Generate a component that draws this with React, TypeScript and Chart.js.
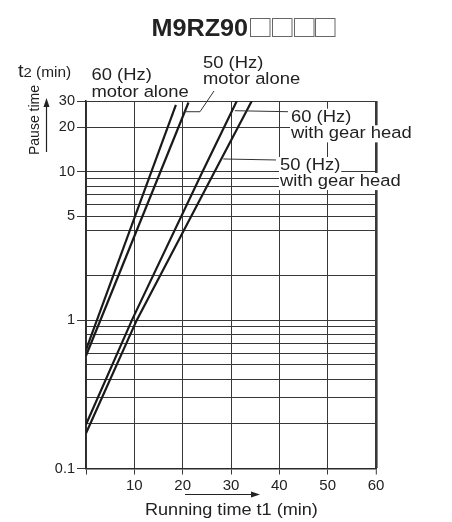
import React, { useEffect, useRef } from 'react';
import { Chart, registerables } from 'chart.js';
Chart.register(...registerables);

const TITLE = 'M9RZ90';
const TITLE_BOXES = 4;
const X_TICKS = [0, 10, 20, 30, 40, 50, 60];
const Y_GRID = [0.1, 0.2, 0.3, 0.4, 0.5, 0.6, 0.7, 0.8, 0.9, 1, 2, 4, 5, 6, 7, 8, 9, 10, 20, 30];
const Y_LABELS = [0.1, 1, 5, 10, 20, 30];

const hz60Motor = [{ x: 0, y: 0.63 }, { x: 18.6, y: 28.3 }];
const hz50Motor = [{ x: 0, y: 0.575 }, { x: 21.2, y: 29.3 }];
const hz60Gear = [{ x: 0, y: 0.198 }, { x: 9.5, y: 1 }, { x: 24.1, y: 10 }, { x: 31.2, y: 30 }];
const hz50Gear = [{ x: 0, y: 0.173 }, { x: 10.5, y: 1 }, { x: 26.6, y: 10 }, { x: 34.3, y: 30 }];

const FONT = '"Liberation Sans", Arial, Helvetica, sans-serif';
const INK = '#222';
const GRID = '#383838';

function drawText(ctx: any, s: string, x: number, baseline: number, size: number, sx: number, bg: boolean, bold = false) {
  ctx.save();
  ctx.font = `${bold ? 'bold ' : ''}${size}px ${FONT}`;
  const w = ctx.measureText(s).width * sx;
  if (bg) {
    ctx.fillStyle = '#fff';
    ctx.fillRect(x - 1, baseline - size * 0.8, w + 2, size * 1.05);
  }
  ctx.translate(x, baseline);
  ctx.scale(sx, 1);
  ctx.fillStyle = INK;
  ctx.textAlign = 'left';
  ctx.textBaseline = 'alphabetic';
  ctx.fillText(s, 0, 0);
  ctx.restore();
  return w;
}

function line(ctx: any, pts: number[][], w = 1, color = '#333') {
  ctx.save();
  ctx.strokeStyle = color;
  ctx.lineWidth = w;
  ctx.beginPath();
  ctx.moveTo(pts[0][0], pts[0][1]);
  for (let i = 1; i < pts.length; i++) ctx.lineTo(pts[i][0], pts[i][1]);
  ctx.stroke();
  ctx.restore();
}

const annotPlugin = {
  id: 'annot',
  afterDraw(chart: any) {
    const ctx = chart.ctx;
    const xs = chart.scales.x;
    const ys = chart.scales.y;
    const px = (x: number) => xs.getPixelForValue(x);
    const py = (y: number) => ys.getPixelForValue(y);

    // Title
    const tw = drawText(ctx, TITLE, 151.5, 35.5, 24, 1.05, false, true);
    ctx.save();
    ctx.strokeStyle = '#666';
    ctx.lineWidth = 1;
    for (let i = 0; i < TITLE_BOXES; i++) {
      ctx.strokeRect(Math.round(151.5 + tw + 2 + i * 21.7) + 0.5, 18.5, 19.5, 18);
    }
    ctx.restore();

    // y-axis unit and title
    const tW = drawText(ctx, 't', 18, 77, 18, 1.1, false);
    drawText(ctx, '2', 18 + tW, 77, 13.5, 1.1, false);
    drawText(ctx, '(min)', 36, 77, 14, 1.1, false);

    ctx.save();
    ctx.translate(38.5, 120);
    ctx.rotate(-Math.PI / 2);
    ctx.font = `14px ${FONT}`;
    ctx.fillStyle = INK;
    ctx.textAlign = 'center';
    ctx.textBaseline = 'alphabetic';
    ctx.fillText('Pause time', 0, 0);
    ctx.restore();

    // vertical arrow
    line(ctx, [[46.5, 152], [46.5, 106]], 1.2, '#222');
    ctx.save();
    ctx.fillStyle = '#222';
    ctx.beginPath();
    ctx.moveTo(46.5, 98);
    ctx.lineTo(43.5, 107);
    ctx.lineTo(49.5, 107);
    ctx.closePath();
    ctx.fill();
    ctx.restore();

    // x-axis title and arrow
    line(ctx, [[185, 494.5], [252, 494.5]], 1.2, '#222');
    ctx.save();
    ctx.fillStyle = '#222';
    ctx.beginPath();
    ctx.moveTo(260, 494.5);
    ctx.lineTo(251, 491.5);
    ctx.lineTo(251, 497.5);
    ctx.closePath();
    ctx.fill();
    ctx.restore();
    drawText(ctx, 'Running time t1 (min)', 145, 514.5, 16, 1.13, false);

    // motor-alone labels
    drawText(ctx, '60 (Hz)', 91.5, 80, 16.3, 1.13, false);
    drawText(ctx, 'motor alone', 91.5, 96.5, 16.3, 1.13, false);
    drawText(ctx, '50 (Hz)', 203, 68, 16.3, 1.13, false);
    drawText(ctx, 'motor alone', 203, 83.5, 16.3, 1.13, false);
    line(ctx, [[px(20.3), py(25.4)], [200, py(25.4)], [214, 91]]);

    // gear-head labels
    line(ctx, [[px(30.8), py(25.8)], [288, py(25.8) + 1]]);
    line(ctx, [[px(28.4), py(12.2)], [276, py(12.2) + 1]]);
    drawText(ctx, '60 (Hz)', 291, 121.7, 16.3, 1.13, true);
    drawText(ctx, 'with gear head', 291, 138.3, 16.3, 1.13, true);
    drawText(ctx, '50 (Hz)', 280, 170, 16.3, 1.13, true);
    drawText(ctx, 'with gear head', 280, 186, 16.3, 1.13, true);
  },
};

export default function App() {
  const ref = useRef<HTMLCanvasElement | null>(null);
  useEffect(() => {
    if (!ref.current) return;
    const ds = (data: any) => ({
      data,
      borderColor: '#1a1a1a',
      borderWidth: 2.2,
      pointRadius: 0,
      fill: false,
      tension: 0,
    });
    const chart = new Chart(ref.current, {
      type: 'line',
      data: {
        datasets: [
          { label: '60 (Hz) motor alone', ...ds(hz60Motor) },
          { label: '50 (Hz) motor alone', ...ds(hz50Motor) },
          { label: '60 (Hz) with gear head', ...ds(hz60Gear) },
          { label: '50 (Hz) with gear head', ...ds(hz50Gear) },
        ],
      },
      options: {
        responsive: false,
        animation: false,
        layout: { padding: { top: 101, right: 76, left: 0, bottom: 0 } },
        plugins: {
          legend: { display: false },
          tooltip: { enabled: false },
          title: { display: false },
        },
        scales: {
          x: {
            type: 'linear',
            min: 0,
            max: 60,
            afterFit: (s: any) => { s.height = 53.5; },
            afterBuildTicks: (s: any) => { s.ticks = X_TICKS.map((v) => ({ value: v })); },
            ticks: {
              autoSkip: false,
              maxRotation: 0,
              padding: 2,
              color: INK,
              font: { family: FONT, size: 15 },
              callback: (v: any) => (v === 0 ? '' : String(v)),
            },
            grid: {
              color: GRID,
              lineWidth: (c: any) => (c.tick && c.tick.value === 60 ? 2.6 : 1),
              tickWidth: 1,
              tickLength: 6,
              tickColor: GRID,
            },
            border: { display: true, color: '#2a2a2a', width: 1.5 },
          },
          y: {
            type: 'logarithmic',
            min: 0.1,
            max: 30,
            afterFit: (s: any) => { s.width = 86; },
            afterBuildTicks: (s: any) => { s.ticks = Y_GRID.map((v) => ({ value: v })); },
            ticks: {
              autoSkip: false,
              padding: 2,
              color: INK,
              font: { family: FONT, size: 14.5 },
              callback: (v: any) => (Y_LABELS.includes(v) ? String(v) : ''),
            },
            grid: {
              color: GRID,
              lineWidth: 1,
              tickLength: 9,
              tickWidth: 1,
              tickColor: (c: any) => (c.tick && Y_LABELS.includes(c.tick.value) ? GRID : 'rgba(0,0,0,0)'),
            },
            border: { display: true, color: '#2a2a2a', width: 1.5 },
          },
        },
      },
      plugins: [annotPlugin],
    } as any);
    return () => chart.destroy();
  }, []);
  return (
    <div style={{ position: 'fixed', left: 0, top: 0, width: 452, height: 522, background: '#fff' }}>
      <canvas ref={ref} width={452} height={522} style={{ width: 452, height: 522, display: 'block' }} />
    </div>
  );
}
